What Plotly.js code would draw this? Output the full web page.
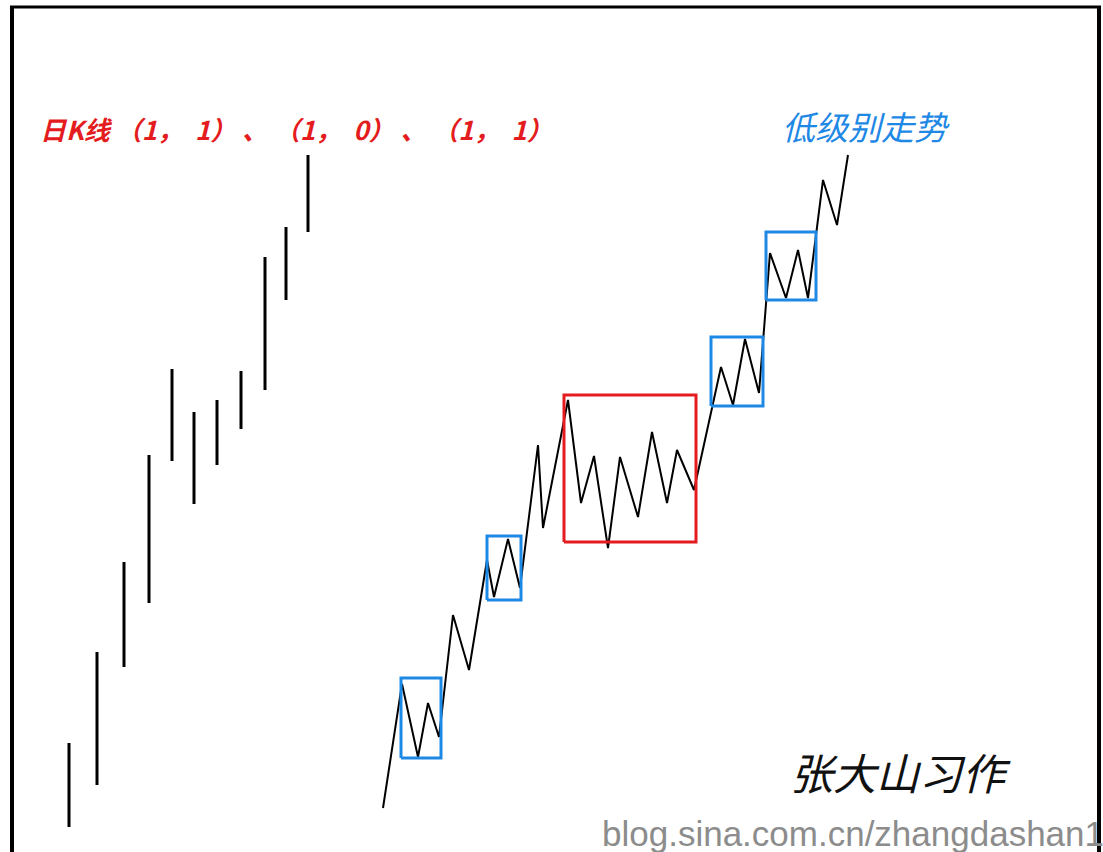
<!DOCTYPE html>
<html>
<head>
<meta charset="utf-8">
<script src="https://cdn.plot.ly/plotly-3.0.1.min.js"></script>
<style>html,body{margin:0;padding:0;background:#fff;}#chart{width:1103px;height:852px;}</style>
</head>
<body>
<div id="chart"></div>
<script>
// Daily K-line bars (left): x position, high, low
const barX    = [69, 97, 124, 149, 172, 194, 217, 241, 265, 286, 308];
const barHigh = [109, 200, 290, 397, 483, 440, 452, 481, 595, 625, 697];
const barLow  = [25, 67, 185, 249, 391, 348, 387, 423, 462, 552, 620];

// Lower-level trend zigzag (right)
const zigX = [383, 402, 418, 428, 439, 453, 469, 487, 494, 508, 520, 538, 543, 568, 581, 594, 608, 620, 638, 652, 667, 677, 694, 721, 733, 745, 759, 770, 786, 798, 808, 823, 837, 848];
const zigY = [44, 168, 95, 149, 115, 237, 182, 292, 255, 313, 264, 407, 324, 452, 349, 396, 304, 395, 335, 420, 349, 402, 362, 485, 447, 513, 459, 599, 554, 602, 554, 672, 627, 697];

// Consolidation boxes
const boxX0 = [401, 487, 564, 711, 766];
const boxX1 = [441, 521, 696, 763, 816];
const boxY0 = [94, 252, 310, 446, 552];
const boxY1 = [174, 316, 457, 515, 620];
const boxKind = ['low', 'low', 'center', 'low', 'low'];

// Labels
const NB = '\u00A0';
const titleLeft = '日K线' + NB + '（1，' + NB + NB + '1）' + NB + '、' + NB + '（1，' + NB + NB + '0）' + NB + '、' + NB + '（1，' + NB + NB + '1）';
const titleRight = '低级别走势';
const author = '张大山习作';
const watermark = 'blog.sina.com.cn/zhangdashan1';

const BLUE = 'rgb(30,136,229)';
const RED = 'rgb(228,28,32)';

const traces = [];

// bars as vertical segments
const bx = [], by = [];
for (let i = 0; i < barX.length; i++) {
  bx.push(barX[i], barX[i], null);
  by.push(barLow[i], barHigh[i], null);
}
traces.push({type: 'scatter', mode: 'lines', x: bx, y: by,
  line: {color: '#000', width: 3}, hoverinfo: 'skip', showlegend: false});

// zigzag
traces.push({type: 'scatter', mode: 'lines', x: zigX, y: zigY,
  line: {color: '#000', width: 2}, hoverinfo: 'skip', showlegend: false});

// boxes
for (let i = 0; i < boxX0.length; i++) {
  traces.push({type: 'scatter', mode: 'lines',
    x: [boxX0[i], boxX1[i], boxX1[i], boxX0[i], boxX0[i]],
    y: [boxY0[i], boxY0[i], boxY1[i], boxY1[i], boxY0[i]],
    line: {color: boxKind[i] === 'center' ? RED : BLUE, width: 3},
    hoverinfo: 'skip', showlegend: false});
}

const layout = {
  width: 1103, height: 852,
  margin: {l: 0, r: 0, t: 0, b: 0},
  paper_bgcolor: '#fff', plot_bgcolor: '#fff',
  showlegend: false,
  xaxis: {range: [0, 1103], visible: false, fixedrange: true},
  yaxis: {range: [0, 852], visible: false, fixedrange: true},
  shapes: [
    {type: 'line', xref: 'x', yref: 'y', x0: 12, x1: 12, y0: 845, y1: 0, line: {color: '#000', width: 4}},
    {type: 'line', xref: 'x', yref: 'y', x0: 10, x1: 1101, y0: 845, y1: 845, line: {color: '#000', width: 3}},
    {type: 'line', xref: 'x', yref: 'y', x0: 1099, x1: 1099, y0: 845, y1: 0, line: {color: '#000', width: 4}, layer: 'above'}
  ],
  annotations: [
    {text: titleLeft, xref: 'x', yref: 'y', x: 38, y: 724, xanchor: 'left', yanchor: 'middle', showarrow: false,
     font: {family: 'Noto Sans CJK SC', size: 26, color: RED, style: 'italic', weight: 'bold'}},
    {text: titleRight, xref: 'x', yref: 'y', x: 780, y: 726, xanchor: 'left', yanchor: 'middle', showarrow: false,
     font: {family: 'Noto Sans CJK SC', size: 33, color: BLUE, style: 'italic'}},
    {text: author, xref: 'x', yref: 'y', x: 788, y: 81, xanchor: 'left', yanchor: 'middle', showarrow: false,
     font: {family: 'Noto Sans CJK SC', size: 43, color: '#111', style: 'italic'}},
    {text: watermark, xref: 'x', yref: 'y', x: 600, y: 19, xanchor: 'left', yanchor: 'middle', showarrow: false,
     font: {family: 'Liberation Sans', size: 35, color: '#8c8c8c'}}
  ]
};

Plotly.newPlot('chart', traces, layout, {staticPlot: true, displayModeBar: false});
</script>
</body>
</html>
